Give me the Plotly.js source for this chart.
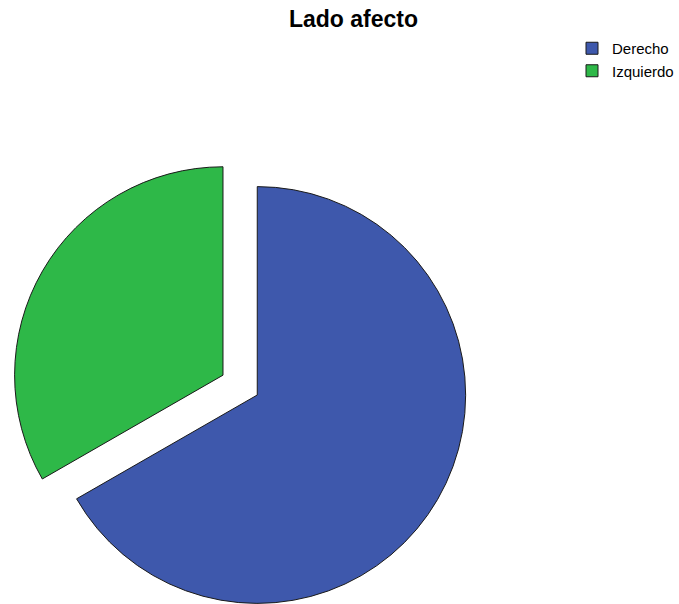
<!DOCTYPE html>
<html>
<head>
<meta charset="utf-8">
<script src="https://cdn.plot.ly/plotly-3.0.1.min.js"></script>
<style>
html, body { margin: 0; padding: 0; overflow: hidden; background: #fff; }
#chart { width: 679px; height: 660px; }
</style>
</head>
<body>
<div id="chart"></div>
<script>
var labels = ['Derecho', 'Izquierdo'];
var values = [66.7, 33.3];
var colors = ['#3E58AC', '#2EB848'];
var pulls = [0, 0.19];
var titleText = 'Lado afecto';

var W = 679, H = 660;

var trace = {
  type: 'pie',
  labels: labels,
  values: values,
  sort: false,
  direction: 'clockwise',
  rotation: 0,
  pull: pulls,
  textinfo: 'none',
  marker: { colors: colors, line: { color: '#1a1a1a', width: 1 } },
  domain: { x: [0.0137, 0.7463], y: [5 / H, 1 - 135 / H] },
  hoverinfo: 'label+percent'
};

var layout = {
  width: W,
  height: H,
  margin: { l: 0, r: 0, t: 0, b: 0 },
  paper_bgcolor: '#fff',
  title: {
    text: '<b>' + titleText + '</b>',
    font: { family: 'Liberation Sans, Arial, sans-serif', size: 23, color: '#000' },
    x: 354.5 / W,
    xanchor: 'center',
    xref: 'paper',
    y: 1 - 19 / H,
    yanchor: 'middle'
  },
  showlegend: true,
  legend: {
    x: 574 / W,
    xanchor: 'left',
    y: 1 - 32 / H,
    yanchor: 'top',
    font: { family: 'Liberation Sans, Arial, sans-serif', size: 15, color: '#000' },
    bgcolor: 'rgba(0,0,0,0)',
    borderwidth: 0,
    traceorder: 'normal'
  }
};

Plotly.newPlot('chart', [trace], layout, { displayModeBar: false, staticPlot: true });
</script>
</body>
</html>
